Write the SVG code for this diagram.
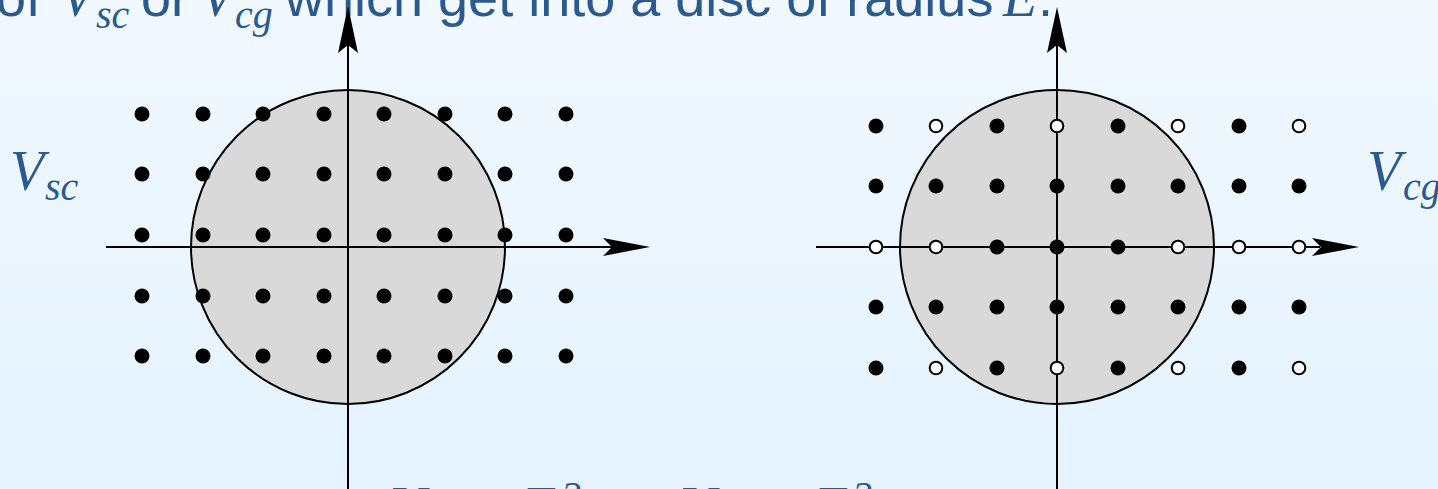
<svg xmlns="http://www.w3.org/2000/svg" width="1438" height="489" viewBox="0 0 1438 489">
<defs>
<linearGradient id="bg" x1="0" y1="0" x2="0" y2="1">
<stop offset="0" stop-color="#f2f8fe"/>
<stop offset="1" stop-color="#e4f3fe"/>
</linearGradient>
<circle id="d" r="7.5" fill="#000"/>
<circle id="o" r="6.3" fill="#fff" stroke="#000" stroke-width="2"/>
</defs>
<style>
.t{font-family:"Liberation Sans",Arial,sans-serif;font-size:54px;fill:#2b5a8e}
.m{font-family:"Liberation Serif","Times New Roman",serif;font-style:italic;fill:#2b5a8e}
.ax{stroke:#000;stroke-width:2;fill:none}
.disc{fill:#d9d9d9;stroke:#000;stroke-width:2}
.ah{fill:#000}
</style>
<rect width="1438" height="489" fill="url(#bg)"/>

<g id="caption-top">
<text class="t" x="-4" y="16">of</text>
<text class="m" x="60" y="16" font-size="56">V</text>
<text class="m" x="96" y="28" font-size="40">sc</text>
<text class="t" x="141" y="16">or</text>
<text class="m" x="200" y="16" font-size="56">V</text>
<text class="m" x="235" y="28" font-size="40">cg</text>
<text class="t" x="285" y="16">which get into a disc of radius</text>
<text class="m" x="1003" y="16" font-size="56">E</text>
<text class="t" x="1038" y="16">.</text>
</g>

<g id="left-disc">
<circle class="disc" cx="348" cy="247" r="157"/>
</g>
<g id="right-disc">
<circle class="disc" cx="1057" cy="247" r="157"/>
</g>

<g id="connectors">
<line class="ax" x1="348" y1="489" x2="348" y2="45"/>
<path class="ah" d="M348,6 L358,53 L348,45 L338,53 Z"/>
<line class="ax" x1="106" y1="247" x2="612" y2="247"/>
<path class="ah" d="M650,247 L603,238 L612,247 L603,256 Z"/>
<line class="ax" x1="1057" y1="489" x2="1057" y2="45"/>
<path class="ah" d="M1057,7 L1067,53 L1057,45 L1047,53 Z"/>
<line class="ax" x1="816" y1="247" x2="1320" y2="247"/>
<path class="ah" d="M1359,247 L1312,238 L1321,247 L1312,256 Z"/>
</g>

<g id="left-lattice">
<use href="#d" x="142" y="114"/><use href="#d" x="203" y="114"/><use href="#d" x="263" y="114"/><use href="#d" x="324" y="114"/><use href="#d" x="384" y="114"/><use href="#d" x="445" y="114"/><use href="#d" x="505" y="114"/><use href="#d" x="566" y="114"/>
<use href="#d" x="142" y="174"/><use href="#d" x="203" y="174"/><use href="#d" x="263" y="174"/><use href="#d" x="324" y="174"/><use href="#d" x="384" y="174"/><use href="#d" x="445" y="174"/><use href="#d" x="505" y="174"/><use href="#d" x="566" y="174"/>
<use href="#d" x="142" y="235"/><use href="#d" x="203" y="235"/><use href="#d" x="263" y="235"/><use href="#d" x="324" y="235"/><use href="#d" x="384" y="235"/><use href="#d" x="445" y="235"/><use href="#d" x="505" y="235"/><use href="#d" x="566" y="235"/>
<use href="#d" x="142" y="296"/><use href="#d" x="203" y="296"/><use href="#d" x="263" y="296"/><use href="#d" x="324" y="296"/><use href="#d" x="384" y="296"/><use href="#d" x="445" y="296"/><use href="#d" x="505" y="296"/><use href="#d" x="566" y="296"/>
<use href="#d" x="142" y="356"/><use href="#d" x="203" y="356"/><use href="#d" x="263" y="356"/><use href="#d" x="324" y="356"/><use href="#d" x="384" y="356"/><use href="#d" x="445" y="356"/><use href="#d" x="505" y="356"/><use href="#d" x="566" y="356"/>
</g>

<g id="right-lattice">
<use href="#d" x="876" y="126"/><use href="#o" x="936" y="126"/><use href="#d" x="997" y="126"/><use href="#o" x="1057" y="126"/><use href="#d" x="1118" y="126"/><use href="#o" x="1178" y="126"/><use href="#d" x="1239" y="126"/><use href="#o" x="1299" y="126"/>
<use href="#d" x="876" y="186"/><use href="#d" x="936" y="186"/><use href="#d" x="997" y="186"/><use href="#d" x="1057" y="186"/><use href="#d" x="1118" y="186"/><use href="#d" x="1178" y="186"/><use href="#d" x="1239" y="186"/><use href="#d" x="1299" y="186"/>
<use href="#o" x="876" y="247"/><use href="#o" x="936" y="247"/><use href="#d" x="997" y="247"/><use href="#d" x="1057" y="247"/><use href="#d" x="1118" y="247"/><use href="#o" x="1178" y="247"/><use href="#o" x="1239" y="247"/><use href="#o" x="1299" y="247"/>
<use href="#d" x="876" y="307"/><use href="#d" x="936" y="307"/><use href="#d" x="997" y="307"/><use href="#d" x="1057" y="307"/><use href="#d" x="1118" y="307"/><use href="#d" x="1178" y="307"/><use href="#d" x="1239" y="307"/><use href="#d" x="1299" y="307"/>
<use href="#d" x="876" y="368"/><use href="#o" x="936" y="368"/><use href="#d" x="997" y="368"/><use href="#o" x="1057" y="368"/><use href="#d" x="1118" y="368"/><use href="#o" x="1178" y="368"/><use href="#d" x="1239" y="368"/><use href="#o" x="1299" y="368"/>
</g>

<g id="label-vsc">
<text class="m" x="10" y="190" font-size="56">V</text>
<text class="m" x="45" y="200" font-size="40">sc</text>
</g>
<g id="label-vcg">
<text class="m" x="1367" y="190" font-size="56">V</text>
<text class="m" x="1403" y="200" font-size="40">cg</text>
</g>

<g id="caption-bottom">
<text class="m" x="390" y="526" font-size="56">V</text>
<text class="m" x="426" y="538" font-size="40">sc</text>
<text class="m" x="470" y="526" font-size="56" font-style="normal">≈</text>
<text class="m" x="522" y="526" font-size="56">E</text>
<text class="m" x="561" y="509" font-size="40" font-style="normal">2</text>
<text class="m" x="680" y="526" font-size="56">V</text>
<text class="m" x="716" y="538" font-size="40">cg</text>
<text class="m" x="762" y="526" font-size="56" font-style="normal">≈</text>
<text class="m" x="814" y="526" font-size="56">E</text>
<text class="m" x="852" y="509" font-size="40" font-style="normal">2</text>
</g>
</svg>
